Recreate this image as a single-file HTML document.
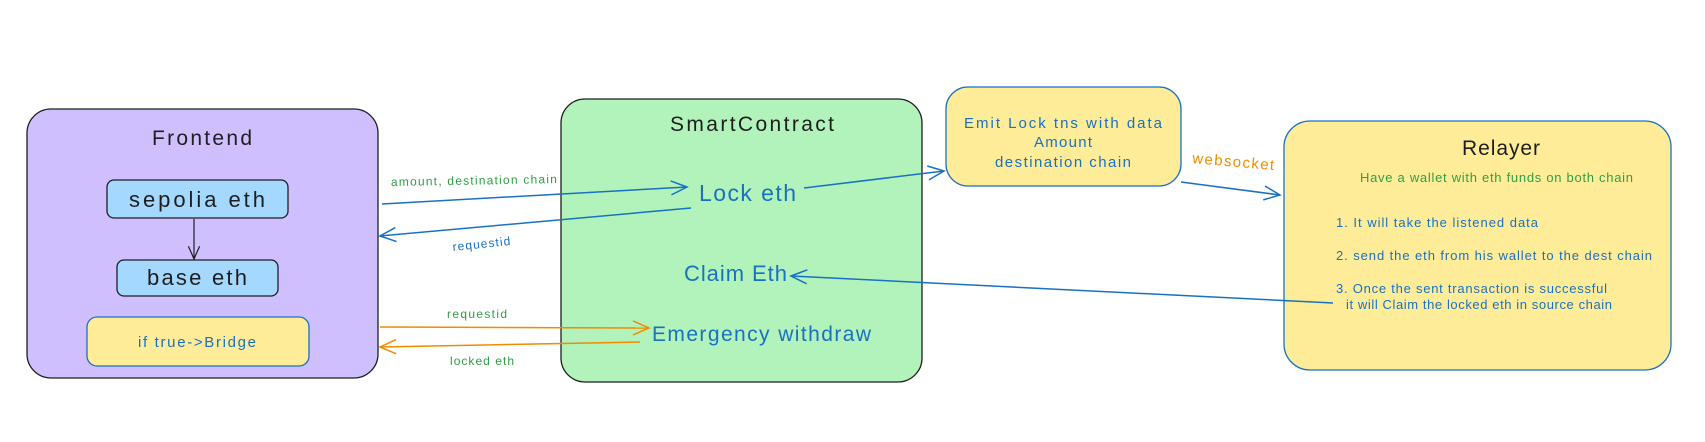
<!DOCTYPE html>
<html><head><meta charset="utf-8"><style>
html,body{margin:0;padding:0;background:#fff;}
svg{display:block;}
text{font-family:"Liberation Sans",sans-serif;}
</style></head><body>
<svg width="1705" height="442" viewBox="0 0 1705 442" xmlns="http://www.w3.org/2000/svg">
<defs>
<marker id="ab" viewBox="0 0 20 20" refX="18" refY="10" markerWidth="20" markerHeight="20" markerUnits="userSpaceOnUse" orient="auto"><path d="M2,3 L18,10 L2,17" fill="none" stroke="#1971c2" stroke-width="1.5"/></marker>
<marker id="ao" viewBox="0 0 20 20" refX="18" refY="10" markerWidth="20" markerHeight="20" markerUnits="userSpaceOnUse" orient="auto"><path d="M2,3 L18,10 L2,17" fill="none" stroke="#f08c00" stroke-width="1.5"/></marker>
<marker id="ak" viewBox="0 0 20 20" refX="18" refY="10" markerWidth="16" markerHeight="16" markerUnits="userSpaceOnUse" orient="auto"><path d="M2,3 L18,10 L2,17" fill="none" stroke="#1e1e1e" stroke-width="1.5"/></marker>
</defs>

<!-- Frontend -->
<rect x="27" y="109" width="351" height="269" rx="24" fill="#d0bfff" stroke="#1e1e1e" stroke-width="1.3"/>
<text x="202" y="145" font-size="21" text-anchor="middle" fill="#1e1e1e" textLength="100">Frontend</text>
<rect x="107" y="180" width="181" height="38" rx="7" fill="#a5d8ff" stroke="#1e1e1e" stroke-width="1.3"/>
<text x="197" y="207" font-size="22" text-anchor="middle" fill="#1e1e1e" textLength="136" font-family="Liberation Mono">sepolia eth</text>
<line x1="194" y1="219" x2="194" y2="259" stroke="#1e1e1e" stroke-width="1.2" marker-end="url(#ak)"/>
<rect x="117" y="260" width="161" height="36" rx="7" fill="#a5d8ff" stroke="#1e1e1e" stroke-width="1.3"/>
<text x="197" y="285" font-size="22" text-anchor="middle" fill="#1e1e1e" textLength="100" font-family="Liberation Mono">base eth</text>
<rect x="87" y="317" width="222" height="49" rx="10" fill="#ffec99" stroke="#1971c2" stroke-width="1.3"/>
<text x="197" y="347" font-size="15" text-anchor="middle" fill="#1971c2" textLength="118">if true-&gt;Bridge</text>

<!-- SmartContract -->
<rect x="561" y="99" width="361" height="283" rx="24" fill="#b2f2bb" stroke="#1e1e1e" stroke-width="1.3"/>
<text x="752" y="131" font-size="21" text-anchor="middle" fill="#1e1e1e" textLength="164">SmartContract</text>
<text x="699" y="201" font-size="23" fill="#1971c2" textLength="97">Lock eth</text>
<text x="684" y="281" font-size="22" fill="#1971c2" textLength="103">Claim Eth</text>
<text x="652" y="341" font-size="21" fill="#1971c2" textLength="219">Emergency withdraw</text>

<!-- Emit box -->
<rect x="946" y="87" width="235" height="99" rx="22" fill="#ffec99" stroke="#1971c2" stroke-width="1.3"/>
<text x="1063" y="128" font-size="15" text-anchor="middle" fill="#1971c2" textLength="198">Emit Lock tns with data</text>
<text x="1063" y="147" font-size="15" text-anchor="middle" fill="#1971c2" textLength="58">Amount</text>
<text x="1063" y="167" font-size="15" text-anchor="middle" fill="#1971c2" textLength="136">destination chain</text>

<!-- Relayer -->
<rect x="1284" y="121" width="387" height="249" rx="26" fill="#ffec99" stroke="#1971c2" stroke-width="1.3"/>
<text x="1462" y="155" font-size="21" fill="#1e1e1e" textLength="78">Relayer</text>
<text x="1360" y="182" font-size="13" fill="#2f9e44" textLength="273">Have a wallet with eth funds on both chain</text>
<text x="1336" y="227" font-size="13" fill="#1971c2" textLength="202">1. It will take the listened data</text>
<text x="1336" y="260" font-size="13" fill="#1971c2" textLength="316">2. send the eth from his wallet to the dest chain</text>
<text x="1336" y="293" font-size="13" fill="#1971c2" textLength="271">3. Once the sent transaction is successful</text>
<text x="1346" y="309" font-size="13" fill="#1971c2" textLength="266">it will Claim the locked eth in source chain</text>

<!-- arrows -->
<line x1="382" y1="204" x2="687" y2="187" stroke="#1971c2" stroke-width="1.5" marker-end="url(#ab)"/>
<text x="391" y="186" font-size="12" fill="#2f9e44" textLength="166" transform="rotate(-1 391 186)">amount, destination chain</text>
<line x1="691" y1="208" x2="380" y2="236" stroke="#1971c2" stroke-width="1.5" marker-end="url(#ab)"/>
<text x="453" y="251" font-size="12" fill="#1971c2" textLength="58" transform="rotate(-6 453 251)">requestid</text>
<line x1="804" y1="188" x2="944" y2="171" stroke="#1971c2" stroke-width="1.5" marker-end="url(#ab)"/>
<line x1="1181" y1="182" x2="1280" y2="195" stroke="#1971c2" stroke-width="1.5" marker-end="url(#ab)"/>
<text x="1192" y="163" font-size="15" fill="#f08c00" textLength="82" transform="rotate(5 1192 163)">websocket</text>
<line x1="1333" y1="303" x2="791" y2="276" stroke="#1971c2" stroke-width="1.5" marker-end="url(#ab)"/>
<line x1="380" y1="327" x2="649" y2="328" stroke="#f08c00" stroke-width="1.5" marker-end="url(#ao)"/>
<text x="447" y="318" font-size="12" fill="#2f9e44" textLength="60">requestid</text>
<line x1="640" y1="342" x2="380" y2="347" stroke="#f08c00" stroke-width="1.5" marker-end="url(#ao)"/>
<text x="450" y="365" font-size="12" fill="#2f9e44" textLength="64">locked eth</text>
</svg>
</body></html>
